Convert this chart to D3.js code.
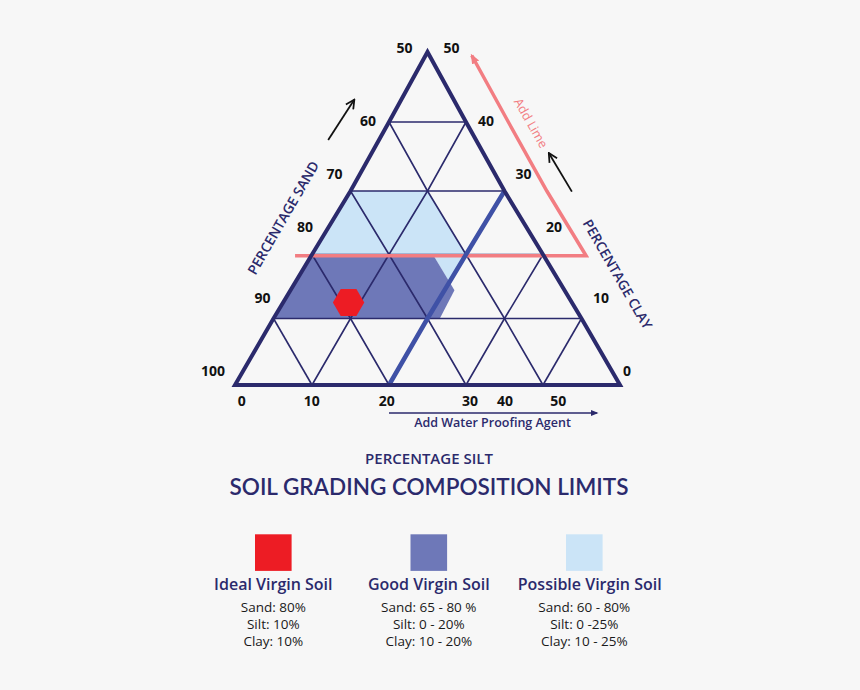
<!DOCTYPE html>
<html><head><meta charset="utf-8">
<script src="https://cdn.jsdelivr.net/npm/d3@7"></script>
<style>
html,body{margin:0;padding:0;background:#f7f7f7;}
svg{display:block;font-family:'Open Sans',Lato,sans-serif;}
</style>
</head><body>
<svg id="chart" width="860" height="690"></svg>
<script>
// ---------------- DATA ----------------
// ternary points are [sand, silt, clay] in %
const sandTicks = [100, 90, 80, 70, 60, 50];
const clayTicks = [0, 10, 20, 30, 40, 50];
const siltTicks = [0, 10, 20, 30, 40, 50];
const gridLevels = [10, 20, 30, 40];

const possibleRegion = [[70,0,30],[60,10,30],[60,20,20],[64.3,20,15.7],[64.3,15.7,20],[80,0,20]];
const goodRegion = [[80,0,20],[64.3,15.7,20],[64.3,21.3,14.4],[68.4,21.6,10],[90,0,10]];
const idealPoint = [79, 8.5, 12.5];
const proofingLine = [[80,20,0],[50,20,30]];
const limeLine = [[82.3,-2.1,19.8],[44.5,35.7,19.8],[44.5,6,49.5]];
const sandArrow = [[69.2,-6.6,37.4],[62.9,-6.1,43.2]];
const clayArrow = [[41.3,28.8,29.9],[41.5,23.0,35.5]];
const proofingArrowSilt = [20, 47];

const legendNames = ["Ideal Virgin Soil", "Good Virgin Soil", "Possible Virgin Soil"];
const legendSand = ["Sand: 80%", "Sand: 65 - 80 %", "Sand: 60 - 80%"];
const legendSilt = ["Silt: 10%", "Silt: 0 - 20%", "Silt: 0 -25%"];
const legendClay = ["Clay: 10%", "Clay: 10 - 20%", "Clay: 10 - 25%"];

// ---------------- STYLE / LAYOUT ----------------
const NAVY = "#2b2a6c";
const C_IDEAL = "#ed1c24", C_GOOD = "#6e78b8", C_POSS = "#cbe4f7";
const C_PROOF = "#3f51a6", C_LIME = "#f27d82";

const xScale = d3.scaleLinear().domain([0, 50]).range([235, 620]);
const yScale = d3.scaleLinear().domain([0, 10, 20, 30, 40, 50]).range([385, 318.5, 254.5, 191, 122, 52]);
const pt = ([sand, silt, clay]) => [xScale(silt + clay / 2), yScale(clay)];

// subdivide segments at clay multiples of 10 so piecewise y-scale is honoured
function densify(pts, closed) {
  const src = closed ? pts.concat([pts[0]]) : pts;
  const out = [];
  for (let i = 0; i < src.length - 1; i++) {
    const a = src[i], b = src[i + 1];
    out.push(a);
    const lo = Math.min(a[2], b[2]), hi = Math.max(a[2], b[2]);
    const cuts = [10, 20, 30, 40].filter(c => c > lo && c < hi);
    if (a[2] > b[2]) cuts.reverse();
    cuts.forEach(c => {
      const t = (c - a[2]) / (b[2] - a[2]);
      out.push([a[0] + t * (b[0] - a[0]), a[1] + t * (b[1] - a[1]), c]);
    });
  }
  if (!closed) out.push(src[src.length - 1]);
  return out;
}
const line = d3.line().x(d => pt(d)[0]).y(d => pt(d)[1]);

// tick label nudges (layout)
const leftNudge = {0:[-22,-15],10:[-11,-21],20:[-7,-28],30:[-16,-18],40:[-21,-2],50:[-23,-5]};
const rightNudge = {0:[7,-15],10:[19.5,-21],20:[11,-28],30:[19,-18],40:[20,-2],50:[24,-5]};
const bottomNudge = {0:6.7,10:-0.3,20:-2.3,30:4,40:-38,50:-61.7};

const svg = d3.select("#chart");
svg.append("rect").attr("width", 860).attr("height", 690).attr("fill", "#f7f7f7");

const defs = svg.append("defs");
function arrowMarker(id, color, size, open) {
  const m = defs.append("marker").attr("id", id).attr("viewBox", "0 0 10 10")
    .attr("refX", open ? 9 : 8).attr("refY", 5).attr("markerUnits", "userSpaceOnUse")
    .attr("markerWidth", size).attr("markerHeight", size).attr("orient", "auto");
  if (open) m.append("path").attr("d", "M1,1 L9,5 L1,9").attr("fill", "none").attr("stroke", color).attr("stroke-width", 1.6);
  else m.append("path").attr("d", "M0,1 L10,5 L0,9 Z").attr("fill", color);
}
arrowMarker("aBlack", "#111", 11, true);
arrowMarker("aLime", C_LIME, 10, false);
arrowMarker("aNavy", NAVY, 8, false);

const g = svg.append("g");

// regions
g.append("path").attr("d", line(densify(possibleRegion, true)) + "Z").attr("fill", C_POSS);
g.append("path").attr("d", line(densify(goodRegion, true)) + "Z").attr("fill", C_GOOD);

// grid lines
const gridLines = [];
gridLevels.forEach(v => {
  gridLines.push([[100 - v, 0, v], [50, 50 - v, v]]);            // clay = v
  gridLines.push(densify([[100 - v, v, 0], [50, v, 50 - v]]));   // silt = v
  const s = 50 + v;
  gridLines.push(densify([[s, 100 - s, 0], [s, 0, 100 - s]]));   // sand = s
});
g.selectAll("path.grid").data(gridLines).join("path").attr("class", "grid")
  .attr("d", d => line(d)).attr("fill", "none").attr("stroke", NAVY).attr("stroke-width", 1.6);

// lime line
g.append("path").attr("d", line(densify(limeLine))).attr("fill", "none")
  .attr("stroke", C_LIME).attr("stroke-width", 3.5).attr("stroke-linejoin", "miter")
  .attr("marker-end", "url(#aLime)");

// proofing line (silt = 20)
g.append("path").attr("d", line(densify(proofingLine))).attr("fill", "none")
  .attr("stroke", C_PROOF).attr("stroke-width", 4.5);

// outer triangle
g.append("path").attr("d", line(densify([[100,0,0],[50,50,0],[50,0,50]], true)) + "Z")
  .attr("fill", "none").attr("stroke", NAVY).attr("stroke-width", 4).attr("stroke-linejoin", "miter");

// ideal point hexagon
const c = pt(idealPoint), r = 15.7;
const hex = d3.range(6).map(i => [c[0] + r * Math.cos(i * Math.PI / 3), c[1] + r * Math.sin(i * Math.PI / 3)]);
g.append("path").attr("d", d3.line()(hex) + "Z").attr("fill", C_IDEAL);

// direction arrows
[sandArrow, clayArrow].forEach(a => {
  g.append("path").attr("d", line(a)).attr("stroke", "#111").attr("stroke-width", 1.8)
    .attr("fill", "none").attr("marker-end", "url(#aBlack)");
});

// tick labels
const tickFont = {size: 14, weight: 700, color: "#111"};
function tick(x, y, t) {
  g.append("text").attr("x", x).attr("y", y).attr("text-anchor", "middle")
    .attr("dominant-baseline", "central").attr("font-size", tickFont.size)
    .attr("font-weight", tickFont.weight).attr("fill", tickFont.color).text(t);
}
sandTicks.forEach(s => {
  const cl = 100 - s, p = pt([s, 0, cl]), n = leftNudge[cl];
  tick(p[0] + n[0], p[1] + n[1], s);
});
clayTicks.forEach(cl => {
  const p = pt([50, 50 - cl, cl]), n = rightNudge[cl];
  tick(p[0] + n[0], p[1] + n[1], cl);
});
siltTicks.forEach(s => {
  const p = pt([100 - s, s, 0]);
  tick(p[0] + bottomNudge[s], p[1] + 15, s);
});

// axis titles
function rotText(x, y, ang, t, size, color, weight) {
  g.append("text").attr("transform", `translate(${x},${y}) rotate(${ang})`)
    .attr("text-anchor", "middle").attr("dominant-baseline", "central")
    .attr("font-size", size).attr("font-weight", weight).attr("fill", color).text(t);
}
const pL0 = pt([100,0,0]), pA = pt([50,0,50]), pR0 = pt([50,50,0]);
const angL = Math.atan2(pA[1] - pL0[1], pA[0] - pL0[0]) * 180 / Math.PI;
const angR = Math.atan2(pR0[1] - pA[1], pR0[0] - pA[0]) * 180 / Math.PI;
rotText(282.7, 217.5, angL, "PERCENTAGE SAND", 13.8, NAVY, 600);
rotText(618, 274, angR, "PERCENTAGE CLAY", 13.8, NAVY, 600);
const lA = pt(limeLine[2]), lB = pt(limeLine[1]);
const angLime = Math.atan2(lB[1] - lA[1], lB[0] - lA[0]) * 180 / Math.PI;
rotText(531, 123, angLime, "Add Lime", 12.5, C_LIME, 500);

// water proofing arrow
const yArrow = yScale(0) + 28;
g.append("line").attr("x1", xScale(proofingArrowSilt[0])).attr("x2", xScale(proofingArrowSilt[1]))
  .attr("y1", yArrow).attr("y2", yArrow).attr("stroke", NAVY).attr("stroke-width", 1.3)
  .attr("marker-end", "url(#aNavy)");
g.append("text").attr("x", 492.5).attr("y", 422.5).attr("text-anchor", "middle")
  .attr("dominant-baseline", "central").attr("font-size", 12.5).attr("font-weight", 600)
  .attr("fill", NAVY).text("Add Water Proofing Agent");

// titles
g.append("text").attr("x", 429).attr("y", 457.5).attr("text-anchor", "middle")
  .attr("dominant-baseline", "central").attr("font-size", 15).attr("font-weight", 600)
  .attr("fill", NAVY).text("PERCENTAGE SILT");
g.append("text").attr("x", 429).attr("y", 486).attr("text-anchor", "middle")
  .attr("dominant-baseline", "central").attr("font-family", "Lato, 'Open Sans', sans-serif")
  .attr("font-size", 22.5).attr("font-weight", 600)
  .attr("fill", NAVY).text("SOIL GRADING COMPOSITION LIMITS");

// legend
const legendColors = [C_IDEAL, C_GOOD, C_POSS];
const legX = d3.scalePoint().domain(legendNames).range([273.3, 584.3]);
const titleShift = [0, 0, 5.4];
const leg = g.selectAll("g.leg").data(legendNames).join("g").attr("class", "leg");
leg.append("rect").attr("x", d => legX(d) - 18.3).attr("y", 534.3).attr("width", 36.6).attr("height", 36.6)
  .attr("fill", (d, i) => legendColors[i]);
leg.append("text").attr("x", (d, i) => legX(d) + titleShift[i]).attr("y", 584.3)
  .attr("text-anchor", "middle").attr("dominant-baseline", "central")
  .attr("font-size", 16).attr("font-weight", 600).attr("fill", NAVY).text(d => d);
[legendSand, legendSilt, legendClay].forEach((arr, k) => {
  leg.append("text").attr("x", d => legX(d)).attr("y", 606.7 + k * 17.3)
    .attr("text-anchor", "middle").attr("dominant-baseline", "central")
    .attr("font-size", 13.5).attr("fill", "#1a1a1a").text((d, i) => arr[i]);
});
</script>
</body></html>
